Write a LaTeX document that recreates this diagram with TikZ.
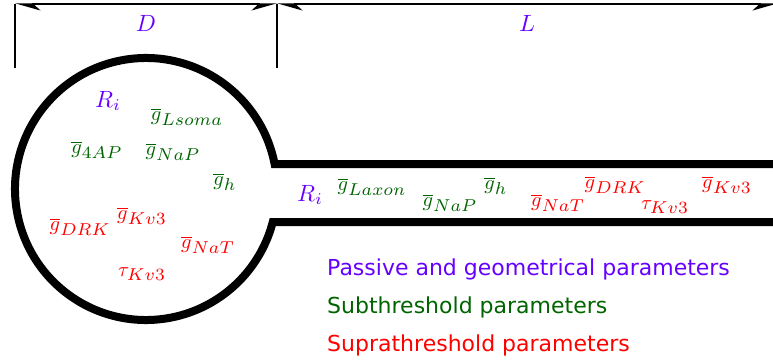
\documentclass[tikz,border=0pt]{standalone}
\usepackage{fontspec}
\newfontfamily\legendfont{DejaVu Sans}
\usetikzlibrary{arrows.meta}
\definecolor{pcol}{HTML}{6600FF}
\definecolor{gcol}{HTML}{006400}
\definecolor{rcol}{HTML}{FF0000}
\newcommand\mlbl[1]{\scalebox{2.05}{$#1$}}
\newcommand\plbl[1]{\scalebox{2.35}{$#1$}}
\newcommand\sbs[1]{\scalebox{1.2}{$\scriptstyle #1$}}
\tikzset{
  dimtipL/.tip={Stealth[harpoon,length=23pt,width=13pt,inset=7pt]},
  dimtipR/.tip={Stealth[harpoon,swap,length=23pt,width=13pt,inset=7pt]}
}
\begin{document}
\begin{tikzpicture}[x=1pt,y=-1pt,
  mathlbl/.style={inner sep=0pt},
  passive/.style={inner sep=0pt, text=pcol},
  subth/.style={mathlbl, text=gcol},
  supra/.style={mathlbl, text=rcol},
  legend/.style={anchor=base west, inner sep=0pt, font=\legendfont\fontsize{22}{26}\selectfont},
  dimline/.style={line width=1.4pt},
  wall/.style={line width=8pt, line join=miter}
]
\useasboundingbox (0,0) rectangle (773,359);
\clip (0,0) rectangle (773,359);

% dimension lines
\coordinate (dl) at (15,4);
\coordinate (dm) at (277,4);
\coordinate (dr) at (778,4);
\coordinate (dlb) at (15,68);
\coordinate (dmb) at (277,68);
\draw[dimline] (dl) -- (dlb);
\draw[dimline] (dm) -- (dmb);
\draw[dimline, dimtipL-dimtipR] (dl) -- (dm);
\draw[dimline, dimtipL-dimtipR] (dm) -- (dr);
\node[passive] (D) at (146,23) {\plbl{D}};
\node[passive] (L) at (527,23) {\plbl{L}};

% soma and axon walls
\coordinate (tr) at (780,164);
\coordinate (br) at (780,222);
\coordinate (a1) at (274.6,164);
\draw[wall] (tr) -- (a1) arc[start angle=-11, end angle=-345.4, radius=131] -- (br);

% soma labels
\node[passive] (Rs) at (108,101) {\plbl{R_i}};
\node[subth] (gLs) at (187,117) {\mlbl{\overline{g}_{\sbs{Lsoma}}}};
\node[subth] (g4s) at (97,150) {\mlbl{\overline{g}_{\sbs{4AP}}}};
\node[subth] (gNaPs) at (173,152) {\mlbl{\overline{g}_{\sbs{NaP}}}};
\node[subth] (ghs) at (225,182) {\mlbl{\overline{g}_{\sbs{h}}}};
\node[supra] (gKs) at (142,216) {\mlbl{\overline{g}_{\sbs{Kv3}}}};
\node[supra] (gDs) at (80,227) {\mlbl{\overline{g}_{\sbs{DRK}}}};
\node[supra] (gNaTs) at (208,245) {\mlbl{\overline{g}_{\sbs{NaT}}}};
\node[supra] (tKs) at (142,274) {\mlbl{\tau_{\sbs{Kv3}}}};

% axon labels
\node[passive] (Ra) at (310,195) {\plbl{R_i}};
\node[subth] (gLa) at (372,187) {\mlbl{\overline{g}_{\sbs{Laxon}}}};
\node[subth] (gNaPa) at (450,203) {\mlbl{\overline{g}_{\sbs{NaP}}}};
\node[subth] (gha) at (496,186) {\mlbl{\overline{g}_{\sbs{h}}}};
\node[supra] (gNaTa) at (558,203) {\mlbl{\overline{g}_{\sbs{NaT}}}};
\node[supra] (gDa) at (615,185) {\mlbl{\overline{g}_{\sbs{DRK}}}};
\node[supra] (tKa) at (665,207) {\mlbl{\tau_{\sbs{Kv3}}}};
\node[supra] (gKa) at (727,185) {\mlbl{\overline{g}_{\sbs{Kv3}}}};

% legend
\node[legend, text=pcol] (l1) at (327,275) {Passive and geometrical parameters};
\node[legend, text=gcol] (l2) at (327,313) {Subthreshold parameters};
\node[legend, text=rcol] (l3) at (327,351) {Suprathreshold parameters};
\end{tikzpicture}
\end{document}
